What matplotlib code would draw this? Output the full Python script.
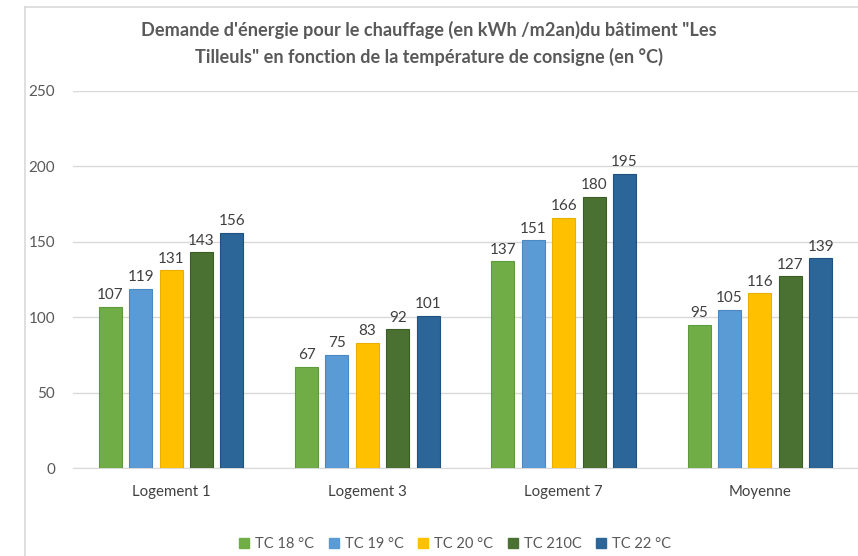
import matplotlib
matplotlib.use("Agg")
import matplotlib.pyplot as plt
from matplotlib.lines import Line2D
from matplotlib.patches import Patch
import numpy as np

plt.rcParams['font.family'] = ['Lato', 'DejaVu Sans']

categories = ["Logement 1", "Logement 3", "Logement 7", "Moyenne"]
series_names = ["TC 18 °C", "TC 19 °C", "TC 20 °C", "TC 210C", "TC 22 °C"]
tc18 = [107, 67, 137, 95]
tc19 = [119, 75, 151, 105]
tc20 = [131, 83, 166, 116]
tc21 = [143, 92, 180, 127]
tc22 = [156, 101, 195, 139]
yticks = [0, 50, 100, 150, 200, 250]

series = [tc18, tc19, tc20, tc21, tc22]
colors = ["#70AD47", "#5B9BD5", "#FFC000", "#4B7132", "#2C6597"]
edges = ["#5E9A3A", "#4A88C2", "#E8AE00", "#3A5C25", "#1F5280"]

fig = plt.figure(figsize=(8.58, 5.56), dpi=100)
fig.patch.set_facecolor("white")

# frame lines of the chart area
fig.add_artist(Line2D([25 / 858, 25 / 858], [0, 1 - 7 / 556], transform=fig.transFigure,
                      color="#D9D9D9", lw=1.2))
fig.add_artist(Line2D([25 / 858, 1], [1 - 7 / 556, 1 - 7 / 556], transform=fig.transFigure,
                      color="#D9D9D9", lw=1.2))

ax = fig.add_axes([73 / 858, 88 / 556, 1 - 73 / 858, (468 - 91) / 556])
x = np.arange(len(categories))
slot = 0.155
bw = 0.117
for i, (vals, c, ec, name) in enumerate(zip(series, colors, edges, series_names)):
    pos = x + (i - 2) * slot
    ax.bar(pos, vals, width=bw, color=c, edgecolor=ec, linewidth=0.8, label=name, zorder=3)
    for px, v in zip(pos, vals):
        ax.text(px, v + 3, str(v), ha="center", va="bottom", fontsize=11, color="#404040")

ax.set_xlim(-0.5, 3.5)
ax.set_ylim(0, 250)
ax.set_yticks(yticks)
ax.set_yticklabels([str(t) for t in yticks])
ax.grid(axis="y", color="#D9D9D9", lw=1, zorder=0)
for s in ["top", "right", "left"]:
    ax.spines[s].set_visible(False)
ax.spines["bottom"].set_color("#D9D9D9")
ax.tick_params(axis="y", length=0, pad=13, labelsize=11, labelcolor="#595959")
ax.tick_params(axis="x", length=0, pad=12, labelsize=10.8, labelcolor="#404040")
ax.set_xticks(x)
ax.set_xticklabels(categories)

fig.text(0.5, 1 - 30 / 556, "Demande d'énergie pour le chauffage (en kWh /m2an)du bâtiment \"Les",
         ha="center", va="center", fontsize=13.1, fontweight="bold", color="#595959")
fig.text(0.5, 1 - 57 / 556, "Tilleuls\" en fonction de la température de consigne (en °C)",
         ha="center", va="center", fontsize=13.1, fontweight="bold", color="#595959")

handles = [Patch(facecolor=c, edgecolor=c) for c in colors]
fig.legend(handles, series_names, loc="center", bbox_to_anchor=(455 / 858, 1 - 544 / 556),
           ncol=5, frameon=False, fontsize=10.5, handlelength=0.7, handleheight=0.7,
           handletextpad=0.4, columnspacing=1.0, labelcolor="#595959")

fig.savefig("out.png", dpi=100)
